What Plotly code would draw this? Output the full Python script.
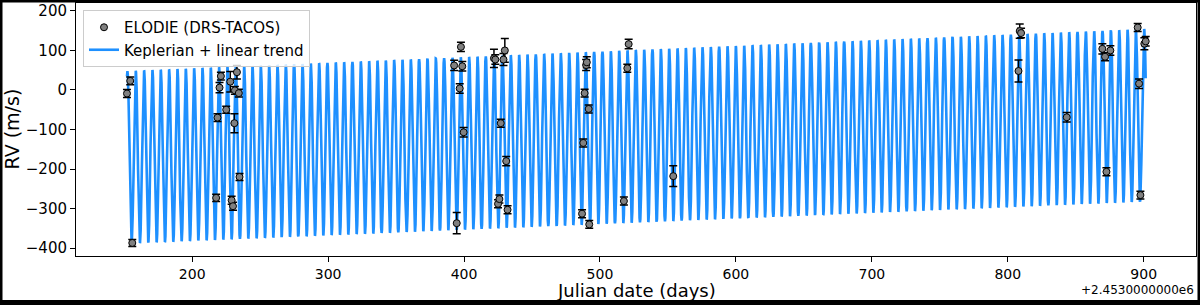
import numpy as np
import plotly.graph_objects as go

# ELODIE (DRS-TACOS) radial velocities, time = JD - 2453000
jd_offset = 2453000
t_elodie = [152.0, 154.4, 155.9, 217.6, 218.6, 220.1, 221.1, 225.0, 228.0, 229.0,
            230.0, 231.0, 231.4, 232.9, 234.3, 234.8, 392.7, 394.6, 396.8, 397.7,
            398.7, 399.7, 422.0, 423.0, 425.0, 426.0, 427.0, 429.0, 430.0, 431.0,
            432.0, 486.8, 487.7, 488.7, 489.8, 490.3, 491.7, 492.1, 517.6, 520.1,
            521.1, 553.9, 807.9, 808.8, 809.8, 843.4, 869.6, 871.6, 872.6, 875.5,
            895.6, 896.6, 897.6, 900.5, 901.5]
rv_elodie = [-9, 23, -387, -273, -70, 6, 35, -50, 21, -279,
             -294, -84, -1, 45, -8, -220, 62, -337, 4, 109,
             60, -107, 80, 77, -288, -276, -84, 77, 100, -180,
             -303, -313, -134, -8, 63, 70, -48, -340, -281, 55,
             116, -218, 48, 149, 144, -69, 104, 84, -207, 100,
             158, 16, -266, 117, 123]
err_elodie = [10, 10, 9, 9, 10, 13, 10, 9, 26, 10,
              10, 24, 10, 17, 10, 9, 13, 27, 12, 12,
              12, 12, 23, 12, 10, 10, 10, 15, 30, 12,
              10, 10, 10, 10, 14, 14, 10, 10, 10, 10,
              12, 26, 28, 18, 12, 12, 13, 10, 10, 12,
              10, 12, 10, 15, 12]

# Keplerian (circular) + linear trend, parameters
period = 6.1315      # days
k_amp = 218.0        # m/s
t_peak = 164.6       # a time of maximum RV
t_ref = 155.0
rv_ref = -170.0      # systemic velocity at t_ref
trend = 0.142        # m/s per day

t_model = np.arange(min(t_elodie), max(t_elodie), 0.02)
rv_model = (rv_ref + trend * (t_model - t_ref)
            + k_amp * np.cos(2 * np.pi * (t_model - t_peak) / period))

fig = go.Figure()
fig.add_trace(go.Scatter(
    x=t_model, y=rv_model,
    mode='lines',
    name='Keplerian + linear trend',
    line=dict(color='#1E90FF', width=2.6)))
fig.add_trace(go.Scatter(
    x=t_elodie, y=rv_elodie,
    mode='markers',
    name='ELODIE (DRS-TACOS)',
    marker=dict(color='grey', size=7, line=dict(color='black', width=1)),
    error_y=dict(type='data', array=err_elodie, color='black',
                 thickness=1.5, width=4)))

# plot area in pixels: x 76..1196, y 3..256
L, R, T, B = 76, 1196, 3, 256
W, H = 1200, 305


def px(x):
    return (x - L) / (R - L)


def py(y):
    return (B - y) / (B - T)


"""---------- FORMATTING ----------"""
fig.update_layout(
    width=W, height=H,
    margin=dict(l=L, r=W - R, t=T, b=H - B),
    paper_bgcolor='white', plot_bgcolor='white',
    font=dict(family='DejaVu Sans', size=14, color='black'),
    showlegend=True,
    legend=dict(
        x=px(83), y=py(10), xanchor='left', yanchor='top',
        traceorder='reversed',
        bgcolor='rgba(255,255,255,0.8)',
        bordercolor='#cccccc', borderwidth=1,
        font=dict(size=15)),
)
fig.update_xaxes(
    range=[114.5, 938.5],
    tickvals=[200, 300, 400, 500, 600, 700, 800, 900],
    ticks='outside', ticklen=5, tickwidth=1, tickcolor='black',
    showline=True, linecolor='black', linewidth=1, mirror=True,
    showgrid=False, zeroline=False,
    tickfont=dict(size=14))
fig.update_yaxes(
    range=[-420, 220],
    tickvals=[-400, -300, -200, -100, 0, 100, 200],
    ticks='outside', ticklen=5, tickwidth=1, tickcolor='black',
    showline=True, linecolor='black', linewidth=1, mirror=True,
    showgrid=False, zeroline=False,
    tickfont=dict(size=15))

annotations = [
    dict(text='Julian date (days)', x=0.5, y=py(290), xref='paper', yref='paper',
         xanchor='center', yanchor='middle', showarrow=False, font=dict(size=18)),
    dict(text='RV (m/s)', x=px(11), y=0.5, xref='paper', yref='paper',
         xanchor='center', yanchor='middle', textangle=-90, showarrow=False,
         font=dict(size=19)),
    dict(text='+%.10fe6' % (jd_offset / 1e6), x=1, y=py(290), xref='paper', yref='paper',
         xanchor='right', yanchor='middle', showarrow=False, font=dict(size=12)),
]
fig.update_layout(annotations=annotations)

# black frame round the whole picture
frame = [(0, 0, 2.5, H), (W - 2.5, 0, W, H), (0, 0, W, 2.5), (0, 300, W, H)]
for x0, y0, x1, y1 in frame:
    fig.add_shape(type='rect', xref='paper', yref='paper',
                  x0=px(x0), x1=px(x1), y0=py(y1), y1=py(y0),
                  fillcolor='black', line=dict(width=0), layer='above')

fig.write_html("out.html",
               config={'displayModeBar': False},
               post_script="document.body.style.margin='0';"
                           "document.body.style.overflow='hidden';")
